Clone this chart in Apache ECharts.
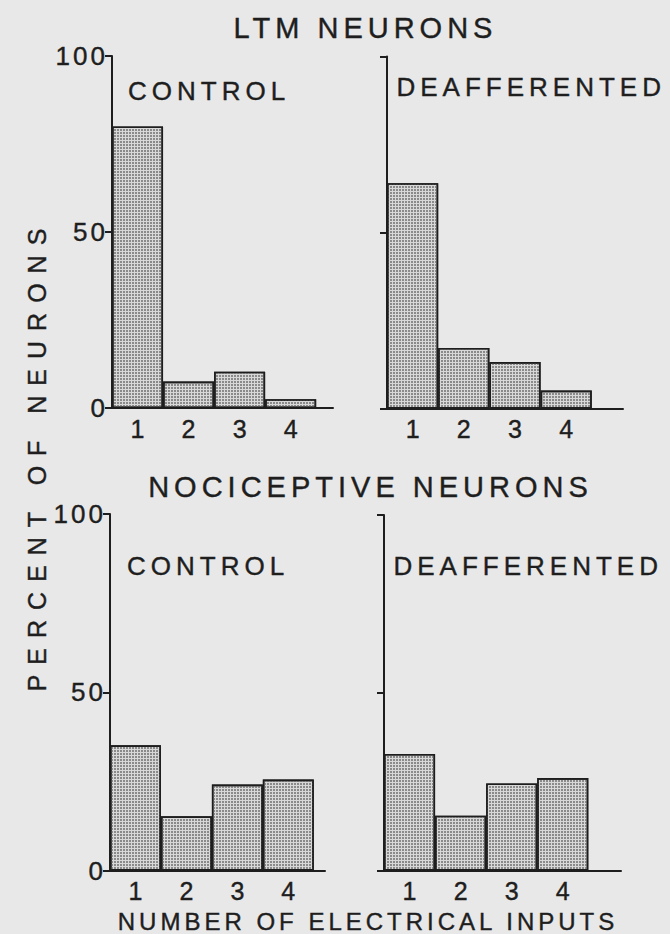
<!DOCTYPE html>
<html>
<head>
<meta charset="utf-8">
<script src="https://cdn.jsdelivr.net/npm/echarts@6/dist/echarts.min.js"></script>
<style>
html,body{margin:0;padding:0;background:#e8e8e8;}
#c{width:670px;height:934px;}
#c text[style*="trkfive"]{letter-spacing:5px;}
#c text[style*="trkten"]{letter-spacing:10px;}
#c text[style*="trkfour"]{letter-spacing:4px;}
#c text[style*="trkthree"]{letter-spacing:3px;}
</style>
</head>
<body>
<div id="c"></div>
<script>
// ---- data ----
const tickLabels = ['1', '2', '3', '4'];
const ltmControl = [80, 7.5, 10.3, 2.5];
const ltmDeafferented = [64, 17.2, 13.2, 5.1];
const nociControl = [35.1, 15.2, 24.1, 25.5];
const nociDeafferented = [32.8, 15.4, 24.5, 26];
const yTicks = [0, 50, 100];
const panelTitles = ['LTM NEURONS', 'NOCICEPTIVE NEURONS'];
const panelLabels = ['CONTROL', 'DEAFFERENTED'];
const yAxisTitle = 'PERCENT OF NEURONS';
const xAxisTitle = 'NUMBER OF ELECTRICAL INPUTS';

// ---- layout ----
const FONT = '"Liberation Sans", Arial, Helvetica';
const INK = '#1e1e1e';
const panels = [
  {data: ltmControl,       left: 112, top: 56,   width: 221, height: 352,   max: 4.83, labels: true},
  {data: ltmDeafferented,  left: 387, top: 56.5, width: 236, height: 352,   max: 5.11, labels: false},
  {data: nociControl,      left: 110, top: 514,  width: 215, height: 356.5, max: 4.72, labels: true},
  {data: nociDeafferented, left: 384, top: 515,  width: 237, height: 355.5, max: 5.14, labels: false}
];
const xMin = 0.5;

const grid = [], xAxis = [], yAxis = [], series = [];
panels.forEach((p, i) => {
  grid.push({left: p.left, top: p.top, width: p.width, height: p.height, outerBoundsMode: 'none', containLabel: false});
  xAxis.push({
    type: 'value', gridIndex: i, min: xMin, max: p.max,
    splitLine: {show: false},
    axisTick: {show: false},
    axisLine: {show: true, onZero: false, lineStyle: {color: INK, width: 2}},
    axisLabel: {
      show: true, customValues: tickLabels.map((t, k) => k + 1),
      formatter: v => tickLabels[Math.round(v) - 1] || '',
      color: INK, fontSize: 25, fontFamily: FONT, margin: 8,
      textBorderColor: INK, textBorderWidth: 0.4
    }
  });
  yAxis.push({
    type: 'value', gridIndex: i, min: yTicks[0], max: yTicks[yTicks.length - 1], interval: yTicks[1] - yTicks[0],
    splitLine: {show: false},
    axisLine: {show: true, lineStyle: {color: INK, width: 2}},
    axisTick: {show: true, inside: false, length: 7, lineStyle: {color: INK, width: 2}},
    axisLabel: {show: p.labels, color: INK, fontSize: 26, fontFamily: FONT + ', trkthree', margin: 4,
      textBorderColor: INK, textBorderWidth: 0.4}
  });
  const unitPx = p.width / (p.max - xMin);
  series.push({
    type: 'bar', xAxisIndex: i, yAxisIndex: i,
    data: p.data.map((v, k) => [k + 1, v]),
    barWidth: unitPx,
    itemStyle: {
      color: '#d8d8d8', borderColor: INK, borderWidth: 1.6,
      decal: {symbol: 'rect', symbolSize: 1, dashArrayX: [2, 1], dashArrayY: [2, 1], color: '#8a8a8a', rotation: 0}
    },
    emphasis: {disabled: true},
    silent: true
  });
});

function txt(text, x, y, size, mark, align, rot) {
  return {
    type: 'text', x: x, y: y, rotation: rot || 0, silent: true,
    style: {text: text, fill: INK, stroke: INK, lineWidth: 0.4,
      font: size + 'px ' + FONT + ', ' + mark,
      textAlign: align || 'center', textVerticalAlign: 'middle'}
  };
}

const graphic = [
  txt(panelTitles[0], 365.5, 28, 29, 'trkfive', 'center'),
  txt(panelLabels[0], 128, 91, 26, 'trkfive', 'left'),
  txt(panelLabels[1], 396.5, 87, 26, 'trkfive', 'left'),
  txt(panelTitles[1], 370.5, 487, 29, 'trkfive', 'center'),
  txt(panelLabels[0], 127, 566, 26, 'trkfive', 'left'),
  txt(panelLabels[1], 393.5, 565.5, 26, 'trkfive', 'left'),
  txt(yAxisTitle, 37, 455, 25, 'trkten', 'center', Math.PI / 2),
  txt(xAxisTitle, 368, 921, 24, 'trkfour', 'center')
];

const chart = echarts.init(document.getElementById('c'), null, {renderer: 'svg', width: 670, height: 934});
chart.setOption({
  backgroundColor: '#e8e8e8',
  animation: false,
  grid: grid, xAxis: xAxis, yAxis: yAxis, series: series,
  graphic: graphic
});
</script>
</body>
</html>
